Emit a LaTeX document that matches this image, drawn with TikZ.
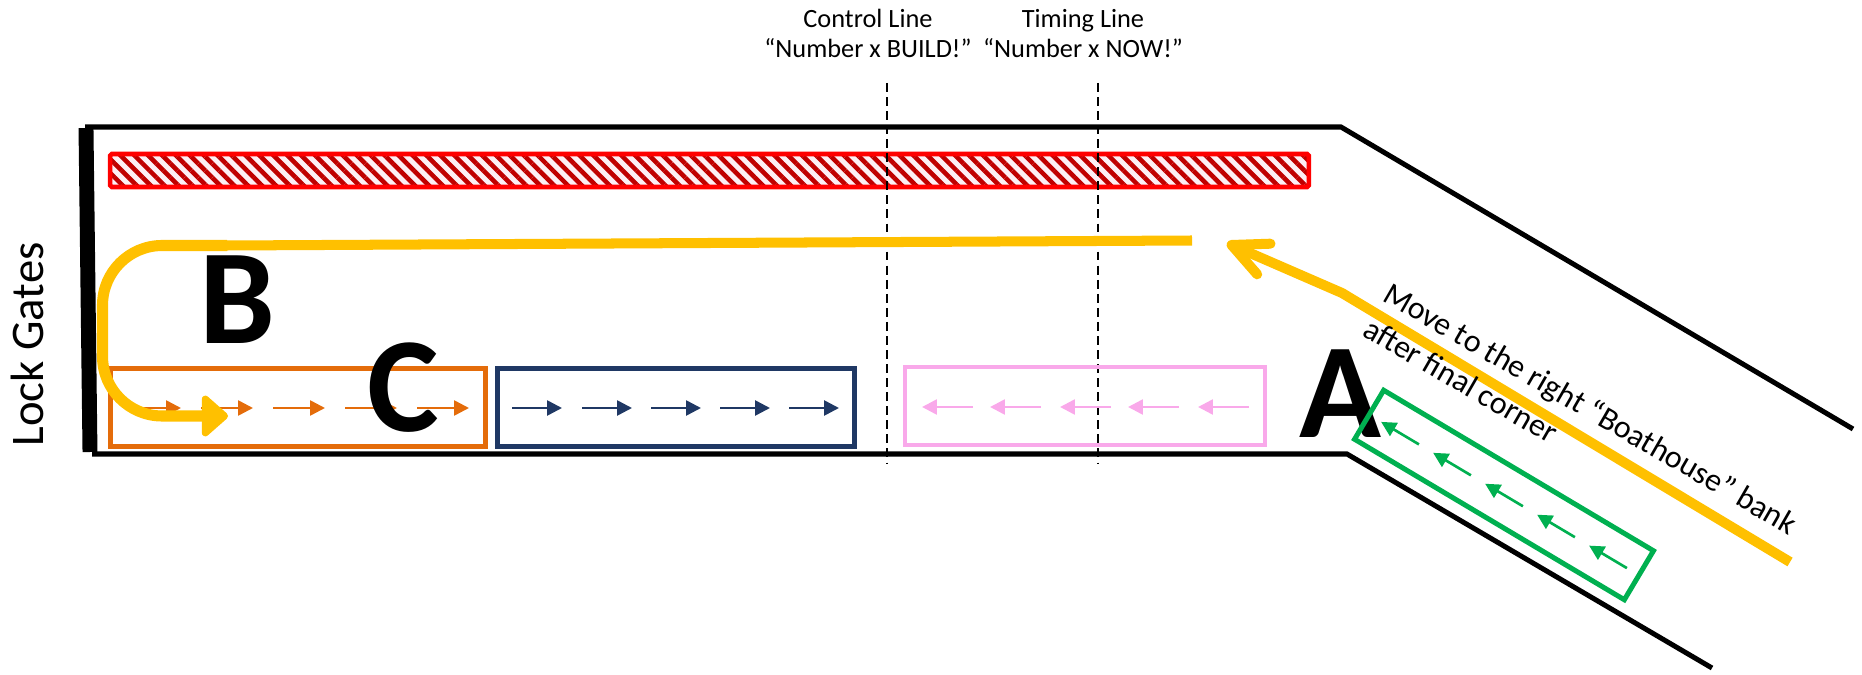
\documentclass[tikz,border=0pt]{standalone}
\usepackage{fontspec}
\setmainfont{Carlito}
\usetikzlibrary{
  arrows.meta,
  patterns.meta
}
\definecolor{laneorange}{HTML}{E46C0A}
\definecolor{lanenavy}{HTML}{1F3864}
\definecolor{lanepink}{HTML}{F9A9EA}
\definecolor{lanegreen}{HTML}{00B050}
\definecolor{routeyellow}{HTML}{FFC000}
\definecolor{barred}{HTML}{FF0000}
\definecolor{hatchred}{HTML}{C00000}
\definecolor{hatchbg}{HTML}{FDEFF4}

\begin{document}
\begin{tikzpicture}[
      x=0.02cm, y=-0.02cm,
      bank/.style={line width=2.85pt, black},
      gate/.style={line width=8.5pt, black},
      lanebox/.style={
        rectangle, draw, line width=2.85pt,
        minimum height=1.56cm, inner sep=0pt
      },
      flow/.style={-{Triangle[length=8.5pt, width=8.5pt]}, line width=1.5pt},
      markline/.style={dashed, dash pattern=on 5pt off 3pt, line width=1.1pt},
      route/.style={routeyellow, line width=5.7pt},
      bigletter/.style={font=\fontsize{77}{80}\selectfont\bfseries, inner sep=0pt, anchor=base},
      note/.style={font=\fontsize{15}{17.6}\selectfont, align=center, inner sep=0pt, anchor=base}
    ]
      \useasboundingbox (0,0) rectangle (1862,675);

      % river banks and lock gates
      \draw[bank] (85,127) -- (1341,127) -- (1853,429);
      \draw[bank] (92,454) -- (1347,454) -- (1712,668);
      \draw[gate] (86,128) -- (90,452);
      \node[font=\fontsize{26.6}{30}\selectfont, rotate=90, anchor=base, inner sep=0pt] (gates) at (43,344.5) {Lock Gates};

      % moored boats
      \node[rectangle, draw=barred, line width=2.6pt, rounded corners=1pt,
        minimum width=23.98cm, minimum height=0.66cm, inner sep=0pt,
        preaction={fill=hatchbg},
        pattern={Lines[angle=-45, distance=5.6pt, line width=2.6pt]}, pattern color=hatchred] (moored) at (709.5,170.5) {};

      % control and timing lines (base = last line)
      \node[note] (control) at (868,58) {Control Line\\“Number x BUILD!”};
      \node[note] (timing) at (1083,58) {Timing Line\\“Number x NOW!”};
      \draw[markline] (887,83) -- (887,463);
      \draw[markline] (1098,83) -- (1098,463);

      % crews in the lane
      \node[lanebox, draw=laneorange, minimum width=7.5cm] (crewC) at (298,407.5) {};
      \node[lanebox, draw=lanenavy, minimum width=7.14cm] (crewN) at (676,407.5) {};
      \node[lanebox, draw=lanepink, line width=2.3pt, minimum width=7.2cm] (crewP) at (1085,406) {};
      \foreach \t in {181,253,325,397,469}
        \draw[flow, laneorange] (\t-52,408) -- (\t,408);
      \foreach \t in {562,632,701,770,839}
        \draw[flow, lanenavy] (\t-50,408) -- (\t,408);
      \foreach \t in {922,990,1060,1128,1198}
        \draw[flow, lanepink] (\t+51,407) -- (\t,407);

      \node[bigletter] (markA) at (1340,437) {A};
      \node[lanebox, draw=lanegreen, rotate=-30.75, minimum width=6.28cm, minimum height=1.14cm] (crewA) at (1504,495) {};
      \begin{scope}[shift={(1504,495)}, rotate=-30.75]
        \foreach \m in {-121,-60.5,0,60.5,121}
          \draw[flow, lanegreen] (\m+22,0) -- (\m-22,0);
      \end{scope}

      % route
      \draw[route] (1192,240.5) -- (227,245.5);
      \draw[route, line width=6.3pt, rounded corners=34pt, -{Triangle[length=16pt, width=27pt, round]}]
        (227,245.5) -- (102.5,245.5) -- (102.5,416) -- (228,416);
      \draw[route, -{Straight Barb[length=20pt, width=19pt, round]}] (1790,562) -- (1342,293) -- (1227,243);

      \node[bigletter] (markB) at (237,343) {B};
      \node[bigletter] (markC) at (403,431) {C};
      \node[font=\fontsize{18.2}{23}\selectfont, align=left, rotate=-30, anchor=base west, inner sep=0pt] (advice) at (1361,335)
        {Move to the right “Boathouse” bank\\after final corner};
    \end{tikzpicture}
\end{document}
